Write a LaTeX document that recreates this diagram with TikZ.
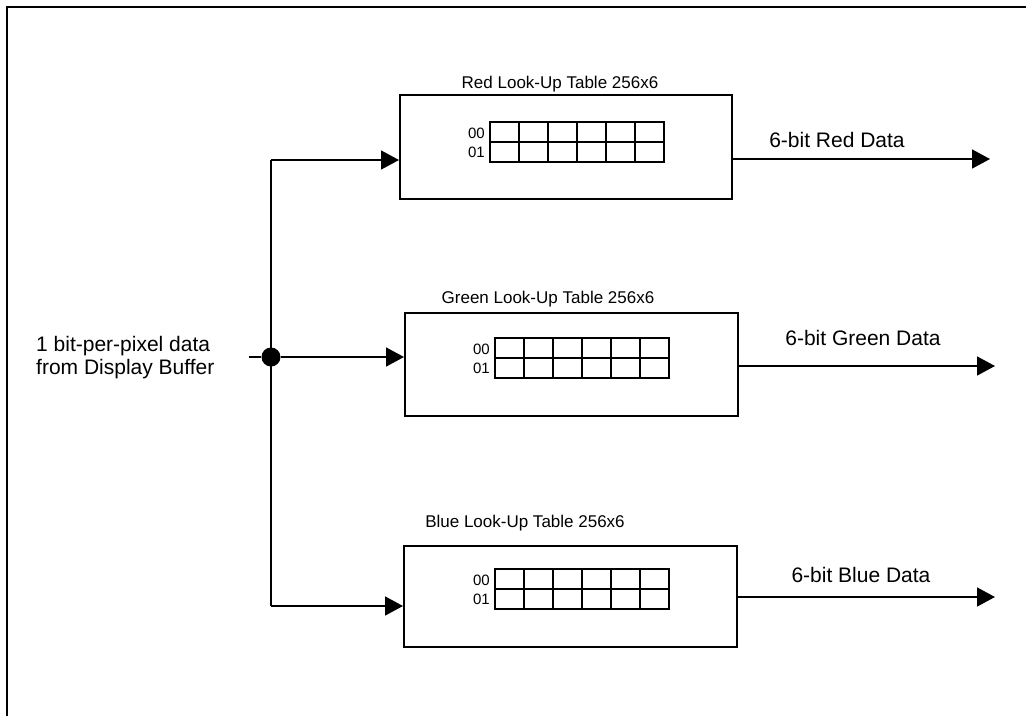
\documentclass[tikz,border=0pt]{standalone}
\usepackage{fontspec}
\setmainfont{Liberation Sans}
\usetikzlibrary{arrows.meta}
\begin{document}
\begin{tikzpicture}[x=1pt,y=-1pt,
  lutbox/.style={draw,line width=2pt,anchor=north west,inner sep=0pt},
  gridline/.style={line width=2pt},
  conn/.style={line width=1.6pt},
  arr/.style={conn,-{Triangle[length=18pt,width=19pt]}},
  title/.style={font=\fontsize{17}{19}\selectfont,inner sep=0pt},
  rowlbl/.style={font=\fontsize{15}{17}\selectfont,inner sep=0pt,anchor=east},
  outlbl/.style={font=\fontsize{21}{23}\selectfont,inner sep=0pt},
  dot/.style={circle,fill=black,minimum size=19pt,inner sep=0pt}]
\useasboundingbox (0,0) rectangle (1026,716);
% outer frame
\coordinate (fa) at (7,716);
\coordinate (fb) at (7,7);
\coordinate (fc) at (1026,7);
\draw[line width=2pt] (fa) -- (fb) -- (fc);

% boxes
\node[lutbox,minimum width=332pt,minimum height=104pt] (red) at (399,94) {};
\node[lutbox,minimum width=333pt,minimum height=103pt] (green) at (404,312) {};
\node[lutbox,minimum width=333pt,minimum height=101pt] (blue) at (403,545) {};

% titles
\node[title] (tred) at (560,84) {Red Look-Up Table 256x6};
\node[title] (tgreen) at (548,299) {Green Look-Up Table 256x6};
\node[title] (tblue) at (525,523) {Blue Look-Up Table 256x6};

% grids
\foreach \gx/\gy/\nm in {490/122/r,495/338/g,495/569/b}{
  \foreach \i in {0,...,6}{
    \draw[gridline] (\gx+29*\i,\gy) -- (\gx+29*\i,\gy+40);
  }
  \foreach \j in {0,1,2}{
    \draw[gridline] (\gx-1,\gy+20*\j) -- (\gx+175,\gy+20*\j);
  }
  \node[rowlbl] (\nm a) at (\gx-5,\gy+11) {00};
  \node[rowlbl] (\nm b) at (\gx-5,\gy+30) {01};
}

% left text
\node[outlbl,anchor=west,align=left] (src) at (36,358) {1 bit-per-pixel data\\from Display Buffer};

% distribution
\coordinate (tt) at (271,160);
\coordinate (tb) at (271,606);
\coordinate (sin) at (249,357);
\node[dot] (j) at (271,357) {};
\draw[conn] (tt) -- (tb);
\draw[arr] (tt) -- (red.west |- tt);
\draw[conn] (sin) -- (j);
\draw[arr] (j) -- (green.west |- j);
\draw[arr] (tb) -- (blue.west |- tb);

% outputs
\coordinate (ro) at (990,159);
\coordinate (go) at (995,366);
\coordinate (bo) at (995,597);
\draw[arr] (red.east |- ro) -- (ro);
\draw[arr] (green.east |- go) -- (go);
\draw[arr] (blue.east |- bo) -- (bo);
\node[outlbl] (lr) at (837,140) {6-bit Red Data};
\node[outlbl] (lg) at (863,338) {6-bit Green Data};
\node[outlbl] (lb) at (861,575) {6-bit Blue Data};
\end{tikzpicture}
\end{document}
